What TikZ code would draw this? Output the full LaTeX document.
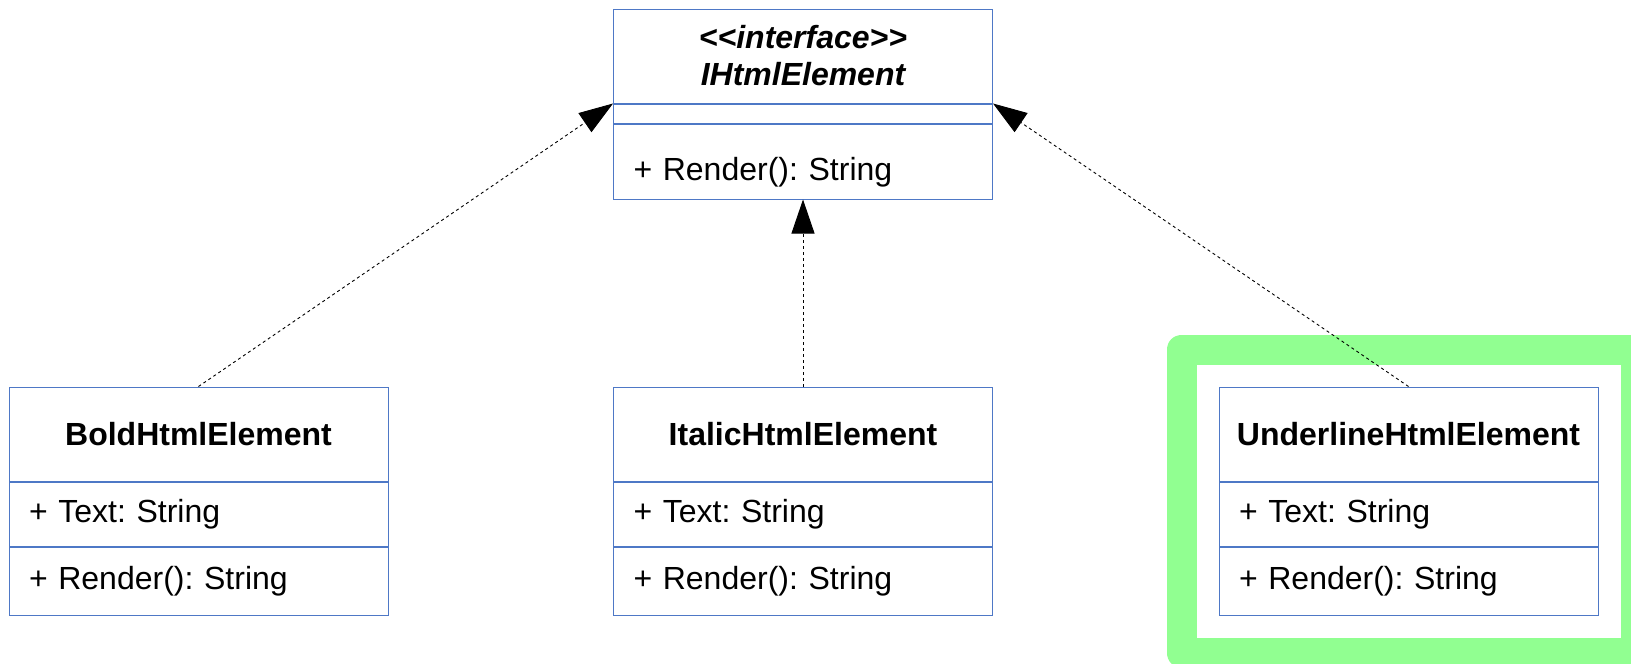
\documentclass[tikz,border=0pt]{standalone}
\usepackage{fontspec}
\setmainfont{Liberation Sans}
\usepackage{tikz}
\usetikzlibrary{positioning, arrows.meta, fit}
\definecolor{umlblue}{RGB}{78,120,198}
\definecolor{hlgreen}{RGB}{145,255,145}
\frenchspacing

\begin{document}
\begin{tikzpicture}[x=1pt, y=-1pt,
  classname/.style={draw=umlblue, line width=1pt, minimum width=379pt,
    minimum height=94pt, inner sep=0pt, align=center,
    font=\fontsize{32}{37}\selectfont\bfseries},
  member/.style={draw=umlblue, line width=1pt, text width=339pt,
    inner xsep=20pt, inner ysep=0pt, align=left, text height=22pt,
    text depth=6pt, font=\fontsize{32}{37}\selectfont},
  realize/.style={-{Triangle[length=34pt, width=23pt]}, line width=0.9pt,
    dash pattern=on 3pt off 3pt},
  highlight/.style={draw=hlgreen, line width=30pt, line join=round,
    inner sep=37pt}
]
\useasboundingbox (0,0) rectangle (1631,664);

% interface
\node[classname, font=\fontsize{32}{37}\selectfont\bfseries\itshape] (iface) at (803, 56)
  {<\kern0pt<interface>\kern0pt>\\IHtmlElement};
\node[member, minimum height=19pt, text height=0pt, text depth=0pt,
  below=0pt of iface] (ifaceattr) {};
\node[member, minimum height=75pt, text height=37pt, text depth=0pt,
  below=0pt of ifaceattr] (ifaceops) {+ Render(): String};

% implementing classes
\node[classname] (bold) at (198.5, 434) {BoldHtmlElement};
\node[member, minimum height=64pt, below=0pt of bold] (boldattr) {+ Text: String};
\node[member, minimum height=68pt, below=0pt of boldattr] (boldops) {+ Render(): String};

\node[classname] (italic) at (803, 434) {ItalicHtmlElement};
\node[member, minimum height=64pt, below=0pt of italic] (italicattr) {+ Text: String};
\node[member, minimum height=68pt, below=0pt of italicattr] (italicops) {+ Render(): String};

\node[classname] (underline) at (1408.5, 434) {UnderlineHtmlElement};
\node[member, minimum height=64pt, below=0pt of underline] (underlineattr) {+ Text: String};
\node[member, minimum height=68pt, below=0pt of underlineattr] (underlineops) {+ Render(): String};

% highlight round the underline class
\node[highlight, fit=(underline)(underlineops)] (focus) {};

\draw[realize] (bold.north) -- (iface.south west);
\draw[realize] (italic.north) -- (ifaceops.south);
\draw[realize] (underline.north) -- (iface.south east);

\end{tikzpicture}
\end{document}
